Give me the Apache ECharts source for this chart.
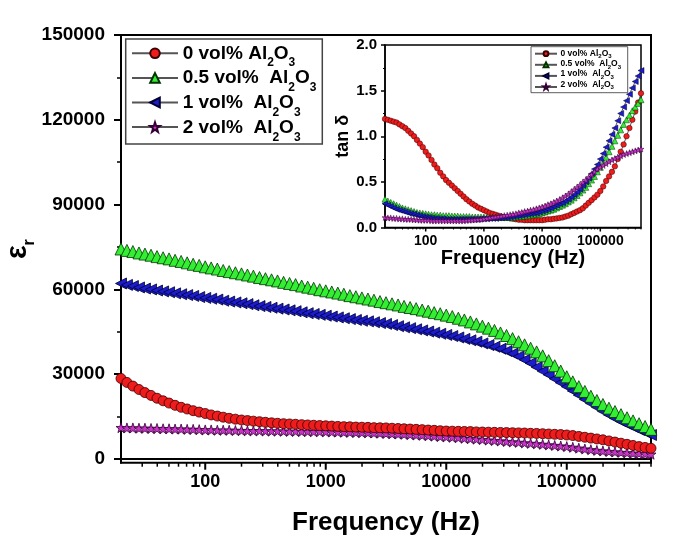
<!DOCTYPE html>
<html><head><meta charset="utf-8">
<script src="https://cdn.jsdelivr.net/npm/echarts@6/dist/echarts.min.js"></script>
<style>html,body{margin:0;padding:0;background:#fff}#c{width:685px;height:549px}</style>
</head><body><div id="c"></div>
<script>
const freq = [20,22.4,25.1,28.2,31.6,35.5,39.8,44.7,50.1,56.2,
63.1,70.8,79.4,89.1,100,112,126,141,158,178,
200,224,251,282,316,355,398,447,501,562,
631,708,794,891,1000,1122,1259,1413,1585,1778,
1995,2239,2512,2818,3162,3548,3981,4467,5012,5623,
6310,7079,7943,8913,10000,11220,12590,14130,15850,17780,
19950,22390,25120,28180,31620,35480,39810,44670,50120,56230,
63100,70790,79430,89130,100000,112200,125900,141300,158500,177800,
199500,223900,251200,281800,316200,354800,398100,446700,500000];

const epsAl0 = [28500,27100,25800,24600,23500,22500,21500,20600,19800,19000,
18300,17700,17100,16600,16100,15600,15200,14800,14400,14100,
13800,13600,13400,13200,13000,12800,12650,12500,12400,12300,
12150,12050,11950,11850,11750,11650,11550,11450,11400,11300,
11250,11200,11100,11050,11000,10900,10800,10700,10600,10500,
10400,10250,10150,10000,9900,9850,9800,9750,9700,9600,
9550,9500,9450,9400,9350,9300,9250,9200,9100,9050,
8950,8850,8750,8650,8500,8300,8000,7700,7400,7100,
6800,6400,6000,5600,5200,4800,4400,4100,3800];
const epsAl05 = [74300,73800,73400,72900,72500,72100,71600,71200,70800,70300,
69900,69400,68900,68500,68000,67600,67200,66700,66300,65900,
65500,65100,64700,64200,63800,63400,63000,62500,62100,61700,
61200,60800,60400,59900,59500,59100,58700,58300,57800,57400,
57000,56600,56200,55700,55300,54900,54500,54000,53600,53200,
52700,52300,51800,51400,50900,50400,49800,49200,48500,47800,
47000,46300,45500,44600,43700,42600,41500,40400,39200,37900,
36500,34800,33000,31100,29100,27300,25600,23900,22200,20700,
19300,18000,16800,15700,14600,13500,12500,11500,10500];
const epsAl1 = [62100,61600,61200,60700,60300,60000,59600,59300,59000,58600,
58300,58000,57700,57300,57000,56700,56400,56000,55700,55400,
55100,54800,54400,54100,53800,53500,53200,52900,52600,52300,
51900,51600,51300,51000,50700,50400,50100,49800,49500,49200,
48900,48700,48400,48100,47800,47400,47000,46600,46300,45900,
45500,45100,44700,44300,43900,43500,43000,42500,42000,41500,
40900,40300,39700,39000,38200,37300,36300,35100,33900,32500,
31100,29800,28400,27000,25600,24100,22600,21100,19700,18300,
16900,15600,14400,13300,12300,11300,10300,9400,8500];
const epsAl2 = [11100,11000,11000,10900,10900,10800,10800,10700,10700,10600,
10600,10500,10500,10400,10300,10300,10200,10200,10200,10100,
10100,10000,10000,10000,9950,9900,9900,9850,9800,9800,
9750,9750,9700,9700,9650,9600,9550,9500,9450,9400,
9350,9300,9200,9150,9050,8950,8850,8750,8650,8500,
8400,8250,8100,7950,7850,7700,7550,7350,7200,7050,
6900,6700,6550,6400,6200,6050,5900,5700,5550,5400,
5200,5000,4800,4600,4400,4150,3850,3550,3300,3050,
2850,2650,2500,2350,2200,2050,1950,1800,1700];

const tanAl0 = [1.19,1.18,1.17,1.16,1.15,1.13,1.11,1.09,1.06,1.03,
1.00,0.96,0.92,0.88,0.83,0.79,0.74,0.69,0.65,0.60,
0.56,0.52,0.49,0.46,0.43,0.40,0.37,0.34,0.31,0.285,
0.26,0.24,0.22,0.205,0.19,0.175,0.16,0.15,0.14,0.13,
0.12,0.11,0.105,0.10,0.095,0.09,0.085,0.085,0.08,0.08,
0.08,0.08,0.08,0.08,0.08,0.085,0.09,0.09,0.095,0.10,
0.105,0.11,0.12,0.13,0.145,0.16,0.175,0.19,0.21,0.24,
0.27,0.30,0.33,0.36,0.40,0.45,0.51,0.56,0.61,0.67,
0.75,0.83,0.91,1.00,1.09,1.18,1.27,1.37,1.47];
const tanAl05 = [0.31,0.29,0.275,0.26,0.245,0.23,0.215,0.205,0.195,0.185,
0.175,0.165,0.16,0.155,0.15,0.145,0.14,0.14,0.135,0.135,
0.13,0.13,0.13,0.125,0.125,0.125,0.12,0.12,0.12,0.12,
0.115,0.115,0.115,0.115,0.115,0.11,0.11,0.11,0.11,0.11,
0.11,0.11,0.11,0.11,0.11,0.115,0.12,0.12,0.125,0.13,
0.135,0.14,0.145,0.15,0.16,0.17,0.18,0.19,0.20,0.215,
0.23,0.245,0.26,0.28,0.30,0.325,0.35,0.38,0.41,0.44,
0.48,0.52,0.56,0.61,0.66,0.71,0.77,0.83,0.89,0.95,
1.01,1.07,1.13,1.18,1.23,1.28,1.32,1.36,1.40];
const tanAl1 = [0.26,0.245,0.23,0.215,0.20,0.19,0.18,0.17,0.16,0.15,
0.145,0.135,0.13,0.12,0.115,0.11,0.105,0.10,0.10,0.095,
0.095,0.09,0.09,0.09,0.09,0.09,0.09,0.09,0.09,0.09,
0.09,0.09,0.09,0.095,0.095,0.095,0.10,0.10,0.10,0.105,
0.105,0.11,0.11,0.115,0.12,0.125,0.13,0.135,0.14,0.145,
0.15,0.155,0.16,0.17,0.18,0.19,0.20,0.215,0.23,0.245,
0.26,0.27,0.29,0.31,0.335,0.36,0.39,0.42,0.46,0.50,
0.54,0.59,0.64,0.69,0.75,0.81,0.88,0.95,1.02,1.09,
1.17,1.25,1.32,1.39,1.46,1.53,1.60,1.66,1.72];
const tanAl2 = [0.11,0.105,0.105,0.10,0.10,0.095,0.095,0.09,0.09,0.09,
0.085,0.085,0.08,0.08,0.08,0.08,0.075,0.075,0.075,0.075,
0.075,0.075,0.075,0.075,0.075,0.075,0.075,0.075,0.078,0.08,
0.082,0.085,0.088,0.09,0.095,0.10,0.105,0.11,0.115,0.12,
0.125,0.13,0.135,0.14,0.145,0.15,0.16,0.165,0.175,0.18,
0.19,0.195,0.205,0.215,0.225,0.235,0.25,0.26,0.275,0.29,
0.305,0.325,0.345,0.365,0.39,0.415,0.44,0.465,0.495,0.52,
0.55,0.58,0.61,0.64,0.66,0.68,0.70,0.72,0.74,0.755,
0.77,0.785,0.80,0.81,0.82,0.83,0.84,0.85,0.86];

const labelStems = ['0 vol% Al', '0.5 vol%  Al', '1 vol%  Al', '2 vol%  Al'];
const xMajorTicks = [100, 1000, 10000, 100000];
const xMinorTicks = [30,40,50,60,70,80,90, 200,300,400,500,600,700,800,900,
  2000,3000,4000,5000,6000,7000,8000,9000, 20000,30000,40000,50000,60000,70000,80000,90000,
  200000,300000,400000,500000];
const yMajorTicks = [0, 30000, 60000, 90000, 120000, 150000];
const yMinorTicks = [15000, 45000, 75000, 105000, 135000];
const tanMinorTicks = [0.25, 0.75, 1.25, 1.75];

const FF = '"Liberation Sans", Arial, Helvetica, sans-serif';
const STAR = 'path://M50,0 L61.8,35.3 L97.6,34.5 L69,56.6 L79.4,90.5 L50,70 L20.6,90.5 L31,56.6 L2.4,34.5 L38.2,35.3 Z';
const LTRI = 'path://M0,50 L100,0 L100,100 Z';
const sty = [
  {color:'#ee1c1c', border:'#3a0000', symbol:'circle', size:10, isize:5.5},
  {color:'#33ee33', border:'#003300', symbol:'triangle', size:12, isize:6},
  {color:'#1c1ccc', border:'#000033', symbol:LTRI, size:11, isize:6},
  {color:'#cc33cc', border:'#330033', symbol:STAR, size:10, isize:6}
];
const epsData = [epsAl0, epsAl05, epsAl1, epsAl2];
const tanData = [tanAl0, tanAl05, tanAl1, tanAl2];
const Y_MIN_MAIN = -1300;

function mkSeries(prefix, arr, i, xi, yi, big) {
  const s = sty[i];
  return {
    name: prefix + i, type: 'line', xAxisIndex: xi, yAxisIndex: yi,
    data: freq.map((f, k) => [f, arr[i][k]]),
    symbol: s.symbol, symbolSize: big ? s.size : s.isize,
    showSymbol: true,
    lineStyle: {color: '#555', width: 1},
    itemStyle: {color: s.color, borderColor: s.border, borderWidth: big ? 0.8 : 0.5},
    emphasis: {disabled: true}, silent: true
  };
}
function tickSeries(xi, yi, yBase, majLen, minLen) {
  return {
    type: 'custom', xAxisIndex: xi, yAxisIndex: yi, clip: false, silent: true, z: 10,
    data: xMajorTicks.concat(xMinorTicks).map(v => [v, yBase]),
    renderItem: function (params, api) {
      const v = api.value(0);
      const p = api.coord([v, yBase]);
      const maj = xMajorTicks.indexOf(v) >= 0;
      const len = maj ? majLen : minLen;
      return {type: 'line', shape: {x1: p[0], y1: p[1], x2: p[0], y2: p[1] + len},
        style: {stroke: '#000', lineWidth: maj ? (majLen > 5 ? 2 : 1.5) : (majLen > 5 ? 1.5 : 1)}};
    }
  };
}

// legend label texts with subscripts (Al2O3)
const mctx = document.createElement('canvas').getContext('2d');
function tw(t, size) { mctx.font = 'bold ' + size + 'px "Liberation Sans"'; return mctx.measureText(t).width; }
function labelGraphics(x0, y0, dy, big, small, subOff) {
  const out = [];
  labelStems.forEach((stem, k) => {
    const y = y0 + k * dy;
    const parts = [[stem, big, 0], ['2', small, subOff], ['O', big, 0], ['3', small, subOff]];
    let x = x0;
    parts.forEach(p => {
      out.push({type: 'text', x: x, y: y + p[2], silent: true, z: 100,
        style: {text: p[0], fontSize: p[1], fontWeight: 'bold', fontFamily: FF, fill: '#000', align: 'left', verticalAlign: 'middle'}});
      x += tw(p[0], p[1]);
    });
  });
  return out;
}

const order = [3, 2, 1, 0];
const series = [];
order.forEach(i => series.push(mkSeries('e', epsData, i, 0, 0, true)));
[0, 1, 2, 3].forEach(i => series.push(mkSeries('t', tanData, i, 1, 2, false)));
series.push(tickSeries(0, 0, Y_MIN_MAIN, 7, 4));
series.push(tickSeries(1, 2, 0, 4, 2));

const graphics = [
  {type: 'rect', shape: {x: 125.7, y: 39, width: 196.6, height: 105}, style: {fill: 'none', stroke: '#444', lineWidth: 1.5}, z: 100, silent: true},
  {type: 'rect', shape: {x: 531, y: 46.7, width: 96.7, height: 46}, style: {fill: 'none', stroke: '#333', lineWidth: 0.8}, z: 100, silent: true},
  {type: 'text', x: 18, y: 252, rotation: Math.PI / 2, silent: true,
   style: {text: 'ε', fontSize: 29, fontWeight: 'bold', fontFamily: FF, fill: '#000', align: 'center', verticalAlign: 'middle'}},
  {type: 'text', x: 30, y: 242.5, rotation: Math.PI / 2, silent: true,
   style: {text: 'r', fontSize: 16, fontWeight: 'bold', fontFamily: FF, fill: '#000', align: 'center', verticalAlign: 'middle'}}
].concat(labelGraphics(182.7, 53.3, 24.8, 19, 12, 9.7))
 .concat(labelGraphics(560.5, 53.3, 10.3, 8.5, 6, 3.3));

const chart = echarts.init(document.getElementById('c'), null, {renderer: 'canvas'});
chart.setOption({
  animation: false,
  backgroundColor: '#fff',
  textStyle: {fontFamily: FF},
  grid: [
    {left: 121, top: 35, width: 530, height: 427.7, show: true, borderColor: '#000', borderWidth: 2},
    {left: 385, top: 45, width: 256, height: 182.5, show: true, backgroundColor: '#fff', borderColor: '#000', borderWidth: 1.5}
  ],
  xAxis: [
    {gridIndex: 0, type: 'log', logBase: 10, min: 20, max: 500000,
     axisLine: {lineStyle: {color: '#000', width: 2}}, axisTick: {show: false}, splitLine: {show: false},
     axisLabel: {formatter: v => String(Math.round(v)), fontSize: 18, fontWeight: 'bold', color: '#000', fontFamily: FF, margin: 10, showMinLabel: false, showMaxLabel: false},
     name: 'Frequency (Hz)', nameLocation: 'middle', nameGap: 47,
     nameTextStyle: {fontSize: 26, fontWeight: 'bold', color: '#000', fontFamily: FF}},
    {gridIndex: 1, type: 'log', logBase: 10, min: 20, max: 500000,
     axisLine: {lineStyle: {color: '#000', width: 1.5}}, axisTick: {show: false}, splitLine: {show: false},
     axisLabel: {formatter: v => String(Math.round(v)), fontSize: 14, fontWeight: 'bold', color: '#000', fontFamily: FF, margin: 6.5, showMinLabel: false, showMaxLabel: false},
     name: 'Frequency (Hz)', nameLocation: 'middle', nameGap: 17,
     nameTextStyle: {fontSize: 20, fontWeight: 'bold', color: '#000', fontFamily: FF}}
  ],
  yAxis: [
    {gridIndex: 0, type: 'value', min: Y_MIN_MAIN, max: 150000, position: 'left',
     axisLine: {show: true, lineStyle: {color: '#000', width: 2}},
     axisTick: {show: true, customValues: yMajorTicks, length: 7, lineStyle: {color: '#000', width: 2}},
     axisLabel: {customValues: yMajorTicks, formatter: v => String(v), fontSize: 19, fontWeight: 'bold', color: '#000', fontFamily: FF, margin: 16},
     splitLine: {show: false}},
    {gridIndex: 0, type: 'value', min: Y_MIN_MAIN, max: 150000, position: 'left', offset: 0,
     axisLine: {show: false}, axisLabel: {show: false}, splitLine: {show: false},
     axisTick: {show: true, customValues: yMinorTicks, length: 4, lineStyle: {color: '#000', width: 1.5}}},
    {gridIndex: 1, type: 'value', min: 0, max: 2, interval: 0.5, position: 'left',
     axisLine: {show: true, lineStyle: {color: '#000', width: 1.5}},
     axisTick: {show: true, length: 4, lineStyle: {color: '#000', width: 1.5}},
     axisLabel: {formatter: v => v.toFixed(1), fontSize: 15, fontWeight: 'bold', color: '#000', fontFamily: FF, margin: 8},
     splitLine: {show: false},
     name: 'tan δ', nameLocation: 'middle', nameGap: 29,
     nameTextStyle: {fontSize: 18, fontWeight: 'bold', color: '#000', fontFamily: FF}},
    {gridIndex: 1, type: 'value', min: 0, max: 2, position: 'left', offset: 0,
     axisLine: {show: false}, axisLabel: {show: false}, splitLine: {show: false},
     axisTick: {show: true, customValues: tanMinorTicks, length: 2, lineStyle: {color: '#000', width: 1}}}
  ],
  legend: [
    {data: ['e0', 'e1', 'e2', 'e3'], orient: 'vertical', left: 131, top: 47.3, padding: 0,
     itemWidth: 46, itemHeight: 12, itemGap: 12.8, selectedMode: false,
     formatter: () => '', textStyle: {fontSize: 1}},
    {data: ['t0', 't1', 't2', 't3'], orient: 'vertical', left: 534, top: 50.3, padding: 0,
     itemWidth: 22, itemHeight: 6, itemGap: 4.3, selectedMode: false,
     formatter: () => '', textStyle: {fontSize: 1}}
  ],
  graphic: graphics,
  series: series
});
</script>
</body></html>
